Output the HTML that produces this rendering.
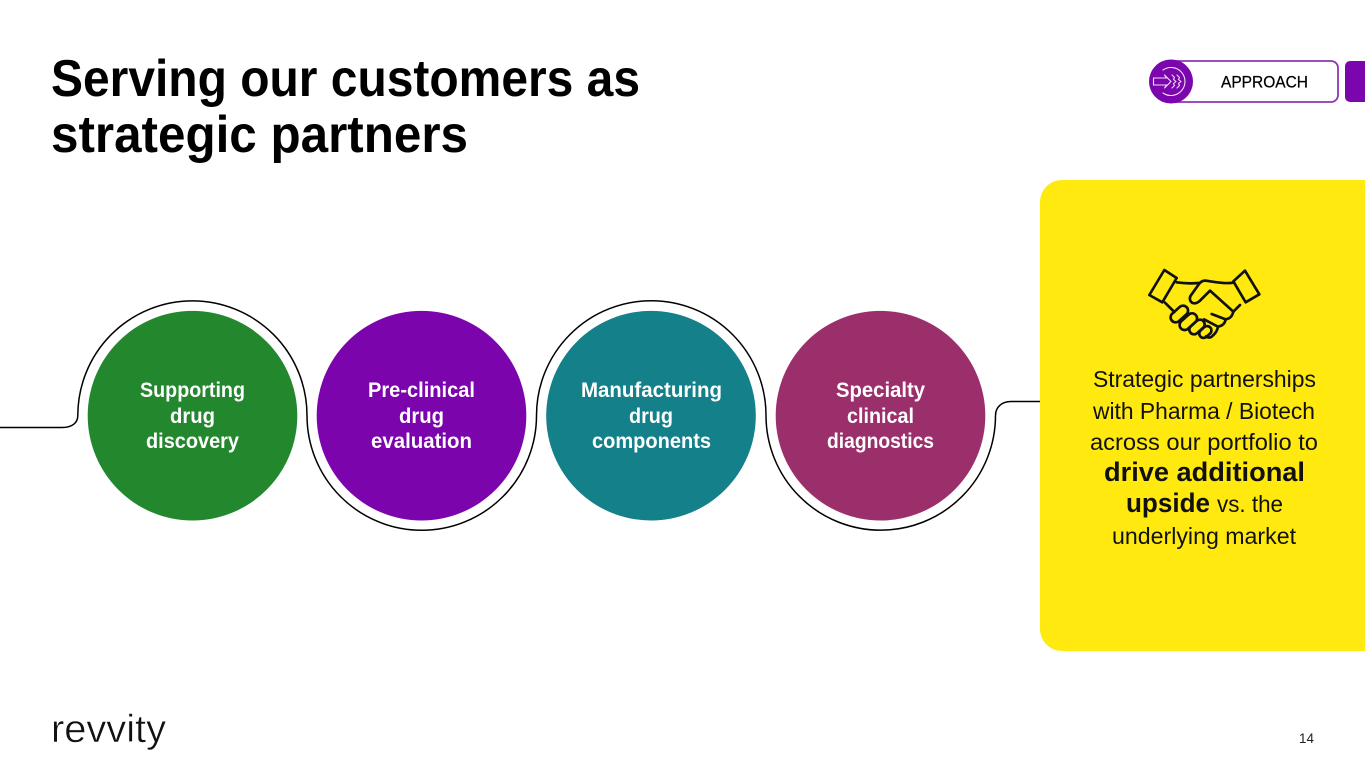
<!DOCTYPE html>
<html lang="en">
<head>
<meta charset="utf-8">
<title>Serving our customers as strategic partners</title>
<style>
html,body{margin:0;padding:0;background:#fff;width:1365px;height:768px;overflow:hidden}
svg{display:block;font-family:"Liberation Sans",sans-serif}
.c{fill:#fff;font-size:21px;font-weight:700;text-anchor:start}
.y{fill:#111;font-size:23px;text-anchor:start}
</style>
</head>
<body>
<svg width="1365" height="768" viewBox="0 0 1365 768" xmlns="http://www.w3.org/2000/svg">
<rect width="1365" height="768" fill="#fff"/>

<!-- title -->
<text x="51" y="96" font-size="52" font-weight="700" fill="#000" textLength="589" lengthAdjust="spacingAndGlyphs">Serving our customers as</text>
<text x="51" y="152" font-size="52" font-weight="700" fill="#000" textLength="417" lengthAdjust="spacingAndGlyphs">strategic partners</text>

<!-- approach pill -->
<rect x="1170" y="61" width="168" height="41" rx="7" fill="#fff" stroke="#8d36b5" stroke-width="1.800"/>
<circle cx="1171" cy="81.500" r="22" fill="#7b06ad"/>
<path d="M1345 66a5 5 0 0 1 5-5h15v41h-15a5 5 0 0 1-5-5z" fill="#7b06ad"/>
<g fill="none" stroke="#f3dcfb" stroke-width="1.100" stroke-linecap="round" stroke-linejoin="round">
  <path d="M1153.500 78h13l-2-3 6.500 6.500-6.500 6.500 2-3h-13z"/>
  <path d="M1163 70a14 14 0 1 1 0 23"/>
  <path d="M1172 75l2.500 2.500-1 2 2.500 2-2.500 2 1 2-2.500 2.500"/>
  <path d="M1177 75l2.500 2.500-1 2 2.500 2-2.500 2 1 2-2.500 2.500"/>
</g>
<text x="1221" y="87.500" font-size="17" fill="#000" stroke="#000" stroke-width=".25" textLength="87" lengthAdjust="spacingAndGlyphs">APPROACH</text>

<!-- connector -->
<path d="M0 427.500H62C72 427.500 77.800 423 77.800 415.500A114.600 114.600 0 0 1 307 415.500A114.750 114.750 0 0 0 536.500 415.500A114.750 114.750 0 0 1 766 415.500A114.750 114.750 0 0 0 995.500 415.500C995.500 407 1002 401.500 1011 401.500H1041" fill="none" stroke="#000" stroke-width="1.500"/>

<!-- circles -->
<circle cx="192.500" cy="415.700" r="104.800" fill="#23872e"/>
<circle cx="421.500" cy="415.700" r="104.800" fill="#7b04ad"/>
<circle cx="651" cy="415.700" r="104.800" fill="#13808a"/>
<circle cx="880.500" cy="415.700" r="104.800" fill="#9b2f6b"/>

<text class="c" x="140" y="397" textLength="105" lengthAdjust="spacingAndGlyphs">Supporting</text>
<text class="c" x="170" y="423" textLength="45" lengthAdjust="spacingAndGlyphs">drug</text>
<text class="c" x="146" y="448" textLength="93" lengthAdjust="spacingAndGlyphs">discovery</text>

<text class="c" x="368" y="397" textLength="107" lengthAdjust="spacingAndGlyphs">Pre-clinical</text>
<text class="c" x="399" y="423" textLength="45" lengthAdjust="spacingAndGlyphs">drug</text>
<text class="c" x="371" y="448" textLength="101" lengthAdjust="spacingAndGlyphs">evaluation</text>

<text class="c" x="581" y="397" textLength="141" lengthAdjust="spacingAndGlyphs">Manufacturing</text>
<text class="c" x="629" y="423" textLength="44" lengthAdjust="spacingAndGlyphs">drug</text>
<text class="c" x="592" y="448" textLength="119" lengthAdjust="spacingAndGlyphs">components</text>

<text class="c" x="836" y="397" textLength="89" lengthAdjust="spacingAndGlyphs">Specialty</text>
<text class="c" x="847" y="423" textLength="67" lengthAdjust="spacingAndGlyphs">clinical</text>
<text class="c" x="827" y="448" textLength="107" lengthAdjust="spacingAndGlyphs">diagnostics</text>

<!-- yellow panel -->
<path d="M1365 180H1062A22 22 0 0 0 1040 202V629A22 22 0 0 0 1062 651H1365Z" fill="#ffe90f"/>

<!-- handshake -->
<g transform="translate(1130 250) scale(.33333)" fill="none" stroke="#111" stroke-width="8" stroke-linejoin="round" stroke-linecap="round">
  <path d="M103 60L140 84L97 157L58 135Z"/>
  <path d="M345 62L310 94L347 157L388 133Z"/>
  <path d="M140 97C160 100 185 101 205 99"/>
  <path d="M308 98C285 103 245 94 228 92C218 91 212 95 207 102L182 137C177 146 180 155 188 159C196 162 203 158 209 153L240 122L310 185"/>
  <path d="M105 158L133 186"/>
  <path d="M330 165L310 185C307 196 303 205 287 208C285 221 276 228 264 230C262 244 254 252 245 260C240 264 232 263 228 259"/>
  <rect x="-30" y="-15" width="60" height="30" rx="15" transform="translate(148 192) rotate(-42)"/>
  <rect x="-30" y="-15" width="60" height="30" rx="15" transform="translate(175 215) rotate(-42)"/>
  <rect x="-26" y="-14" width="52" height="28" rx="14" transform="translate(201 231) rotate(-42)"/>
  <rect x="-20" y="-13" width="40" height="26" rx="13" transform="translate(226 246) rotate(-42)"/>
  <path d="M245 192L287 208M222 208L264 230"/>
</g>

<!-- panel text -->
<text class="y" x="1093" y="387" textLength="223" lengthAdjust="spacingAndGlyphs">Strategic partnerships</text>
<text class="y" x="1093" y="419" textLength="222" lengthAdjust="spacingAndGlyphs">with Pharma / Biotech</text>
<text class="y" x="1090" y="450" textLength="228" lengthAdjust="spacingAndGlyphs">across our portfolio to</text>
<text x="1104" y="481" font-size="27" font-weight="700" fill="#111" textLength="201" lengthAdjust="spacingAndGlyphs">drive additional</text>
<text x="1126" y="512" font-size="27" font-weight="700" fill="#111" textLength="84" lengthAdjust="spacingAndGlyphs">upside</text>
<text class="y" x="1217" y="512" textLength="66" lengthAdjust="spacingAndGlyphs">vs. the</text>
<text class="y" x="1112" y="544" textLength="184" lengthAdjust="spacingAndGlyphs">underlying market</text>

<!-- logo -->
<text x="51" y="742" font-size="39" fill="#111" stroke="#fff" stroke-width=".5" textLength="115" lengthAdjust="spacingAndGlyphs">revvity</text>

<!-- page number -->
<text x="1299" y="743" font-size="14" fill="#222" textLength="15" lengthAdjust="spacingAndGlyphs">14</text>
</svg>
</body>
</html>
